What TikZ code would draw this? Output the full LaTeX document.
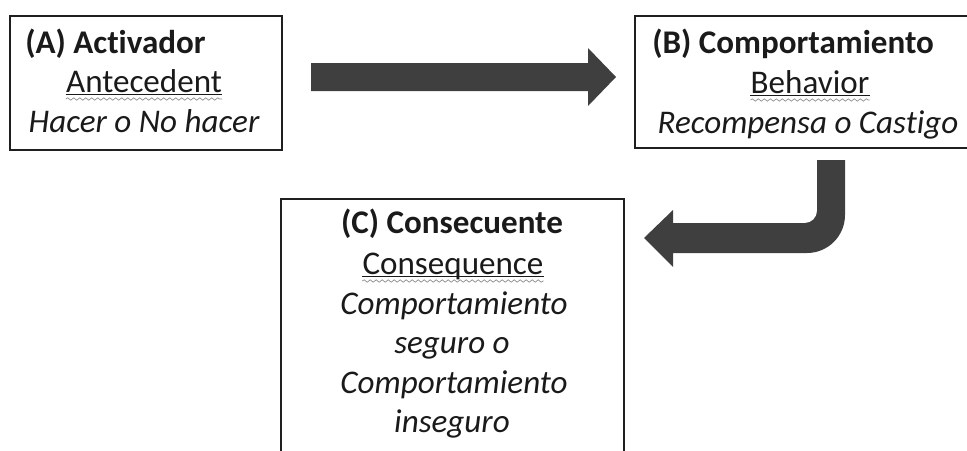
\documentclass[tikz,border=0pt]{standalone}
\usepackage{fontspec}
\setmainfont[Ligatures=NoCommon]{Carlito}
\usetikzlibrary{calc,decorations.pathmorphing}
\definecolor{arrowgray}{HTML}{3F3F3F}
\definecolor{boxline}{HTML}{1F1F1F}
\definecolor{txt}{HTML}{1A1A1A}
\definecolor{squiggle}{HTML}{8A8A8A}
\tikzset{
  x={(0.75pt,0)}, y={(0,-0.75pt)},
  boxnode/.style={draw=boxline, line width=2.1pt, fill=white},
  lbl/.style={inner sep=0pt, text=txt, font=\fontsize{24.8pt}{29pt}\selectfont},
  ttl/.style={lbl, font=\fontsize{24.8pt}{29pt}\selectfont\bfseries},
  itl/.style={lbl, font=\fontsize{24.8pt}{29pt}\selectfont\itshape},
  blockarrow/.style={fill=arrowgray, draw=none},
  squig/.style={draw=squiggle, line width=0.5pt, decorate, decoration={snake, amplitude=0.9, segment length=4.5}},
  uline/.style={draw=txt, line width=0.8pt}
}
\begin{document}
\begin{tikzpicture}
\useasboundingbox (0,0) rectangle (967,450);
\clip (0,0) rectangle (967,450);
% boxes
\draw[boxnode] (10,16) rectangle (282,150);
\draw[boxnode] (635,16) rectangle (980,148);
\draw[boxnode] (281,199) rectangle (624,470);
% box A text
\node[ttl, anchor=base west] (a1) at (25,53) {(A) Activador};
\node[lbl, anchor=base] (a2) at (144,92) {Antecedent};
\node[itl, anchor=base] (a3) at (144,132) {Hacer o No hacer};
% box B text
\node[ttl, anchor=base west] (b1) at (652,53) {(B) Comportamiento};
\node[lbl, anchor=base] (b2) at (810,93) {Behavior};
\node[itl, anchor=base] (b3) at (808,133) {Recompensa o Castigo};
% box C text
\node[ttl, anchor=base] (c1) at (452,233) {(C) Consecuente};
\node[lbl, anchor=base] (c2) at (453,274) {Consequence};
\node[itl, anchor=base] (c3) at (454,314) {Comportamiento};
\node[itl, anchor=base] (c4) at (452,353) {seguro o};
\node[itl, anchor=base] (c5) at (454,393) {Comportamiento};
\node[itl, anchor=base] (c6) at (452,432) {inseguro};
% underlines and squiggles
\foreach \n in {a2,b2,c2}{
  \draw[uline] ($(\n.base west)+(0,2.5)$) -- ($(\n.base east)+(0,2.5)$);
  \draw[squig] ($(\n.base west)+(0,7)$) -- ($(\n.base east)+(0,7)$);
}
% straight block arrow A -> B
\fill[blockarrow] (311,63) -- (588,63) -- (588,48) -- (616,77) -- (588,106) -- (588,91) -- (311,91) -- cycle;
% bent block arrow B -> C
\fill[blockarrow] (817,160) -- (845,160) -- (845,215)
  .. controls (845,236) and (828,253) .. (807,253)
  -- (673,253) -- (673,267) -- (644,238) -- (673,210) -- (673,223) -- (805,223)
  .. controls (811.6,223) and (817,217.6) .. (817,211) -- cycle;
\end{tikzpicture}
\end{document}
